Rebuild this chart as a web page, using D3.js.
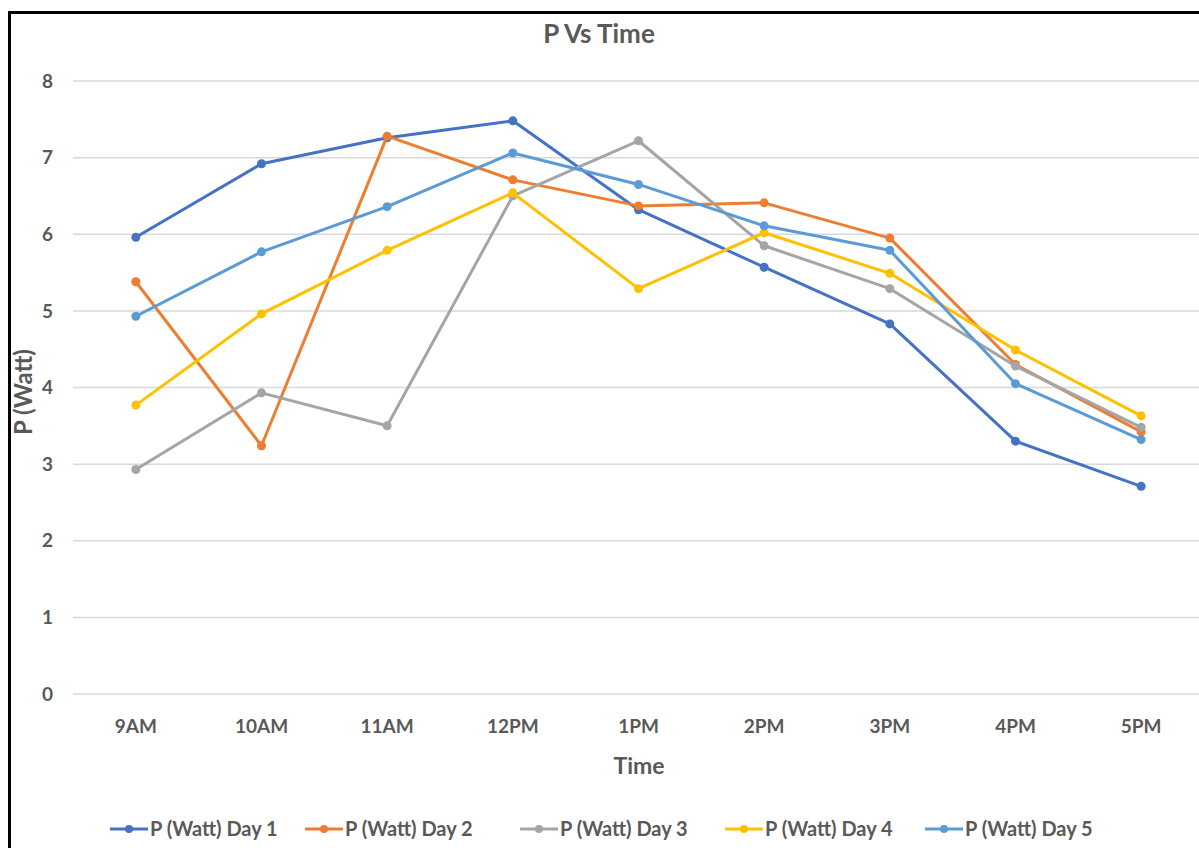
<!DOCTYPE html>
<html>
<head>
<meta charset="utf-8">
<script src="https://cdn.jsdelivr.net/npm/d3@7"></script>
<style>
  body { margin: 0; background: #fff; overflow: hidden; }
  text { font-family: Lato, "Open Sans", sans-serif; font-weight: bold; fill: #595959; }
</style>
</head>
<body>
<div id="chart"></div>
<script>
const times = ["9AM", "10AM", "11AM", "12PM", "1PM", "2PM", "3PM", "4PM", "5PM"];
const yTicks = [0, 1, 2, 3, 4, 5, 6, 7, 8];

const day1 = [5.96, 6.92, 7.26, 7.48, 6.32, 5.57, 4.83, 3.30, 2.71];
const day2 = [5.38, 3.24, 7.28, 6.71, 6.37, 6.41, 5.95, 4.30, 3.42];
const day3 = [2.93, 3.93, 3.50, 6.50, 7.22, 5.85, 5.29, 4.28, 3.48];
const day4 = [3.77, 4.96, 5.79, 6.54, 5.29, 6.02, 5.49, 4.49, 3.63];
const day5 = [4.93, 5.77, 6.36, 7.06, 6.65, 6.11, 5.79, 4.05, 3.32];

const seriesNames = ["P (Watt) Day 1", "P (Watt) Day 2", "P (Watt) Day 3", "P (Watt) Day 4", "P (Watt) Day 5"];
const seriesColors = ["#4472C4", "#ED7D31", "#A5A5A5", "#FFC000", "#5B9BD5"];
const seriesValues = [day1, day2, day3, day4, day5];

const width = 1199;
const height = 848;

const svg = d3.select("#chart")
  .append("svg")
  .attr("width", width)
  .attr("height", height)
  .style("display", "block");

// frame of the pasted picture (only top and left edge are visible)
svg.append("path")
  .attr("d", `M9.5,${height} V12.5 H${width}`)
  .attr("fill", "none")
  .attr("stroke", "#000")
  .attr("stroke-width", 3);

const x = d3.scalePoint()
  .domain(times)
  .range([73, 1204])
  .padding(0.5);

const y = d3.scaleLinear()
  .domain([0, 8])
  .range([694, 81]);

// gridlines
svg.append("g")
  .selectAll("line")
  .data(yTicks)
  .join("line")
  .attr("x1", 73)
  .attr("x2", 1204)
  .attr("y1", d => y(d))
  .attr("y2", d => y(d))
  .attr("stroke", "#d9d9d9")
  .attr("stroke-width", 1.5);

// y tick labels
svg.append("g")
  .selectAll("text")
  .data(yTicks)
  .join("text")
  .attr("x", 53)
  .attr("y", d => y(d))
  .attr("dy", "0.35em")
  .attr("text-anchor", "end")
  .style("font-size", "19px")
  .text(d => d);

// x tick labels
svg.append("g")
  .selectAll("text")
  .data(times)
  .join("text")
  .attr("x", d => x(d))
  .attr("y", 726)
  .attr("dy", "0.35em")
  .attr("text-anchor", "middle")
  .style("font-size", "19px")
  .text(d => d);

// titles
svg.append("text")
  .attr("x", 599)
  .attr("y", 34)
  .attr("dy", "0.35em")
  .attr("text-anchor", "middle")
  .style("font-size", "26px")
  .text("P Vs Time");

svg.append("text")
  .attr("x", 639)
  .attr("y", 766)
  .attr("dy", "0.35em")
  .attr("text-anchor", "middle")
  .style("font-size", "23px")
  .text("Time");

svg.append("text")
  .attr("transform", "translate(32,392) rotate(-90)")
  .attr("text-anchor", "middle")
  .style("font-size", "24px")
  .text("P (Watt)");

// lines and markers
const line = d3.line()
  .x((d, i) => x(times[i]))
  .y(d => y(d));

seriesValues.forEach((vals, k) => {
  const g = svg.append("g");
  g.append("path")
    .datum(vals)
    .attr("d", line)
    .attr("fill", "none")
    .attr("stroke", seriesColors[k])
    .attr("stroke-width", 3)
    .attr("stroke-linejoin", "round");
  g.selectAll("circle")
    .data(vals)
    .join("circle")
    .attr("cx", (d, i) => x(times[i]))
    .attr("cy", d => y(d))
    .attr("r", 4.5)
    .attr("fill", seriesColors[k]);
});

// legend
const legendX = [110, 305, 520, 725, 925];
const legend = svg.append("g");
seriesNames.forEach((name, k) => {
  const lx = legendX[k];
  legend.append("line")
    .attr("x1", lx)
    .attr("x2", lx + 38)
    .attr("y1", 829)
    .attr("y2", 829)
    .attr("stroke", seriesColors[k])
    .attr("stroke-width", 3);
  legend.append("circle")
    .attr("cx", lx + 19)
    .attr("cy", 829)
    .attr("r", 4)
    .attr("fill", seriesColors[k]);
  legend.append("text")
    .attr("x", lx + 40)
    .attr("y", 829)
    .attr("dy", "0.35em")
    .style("font-size", "20px")
    .text(name);
});
</script>
</body>
</html>
